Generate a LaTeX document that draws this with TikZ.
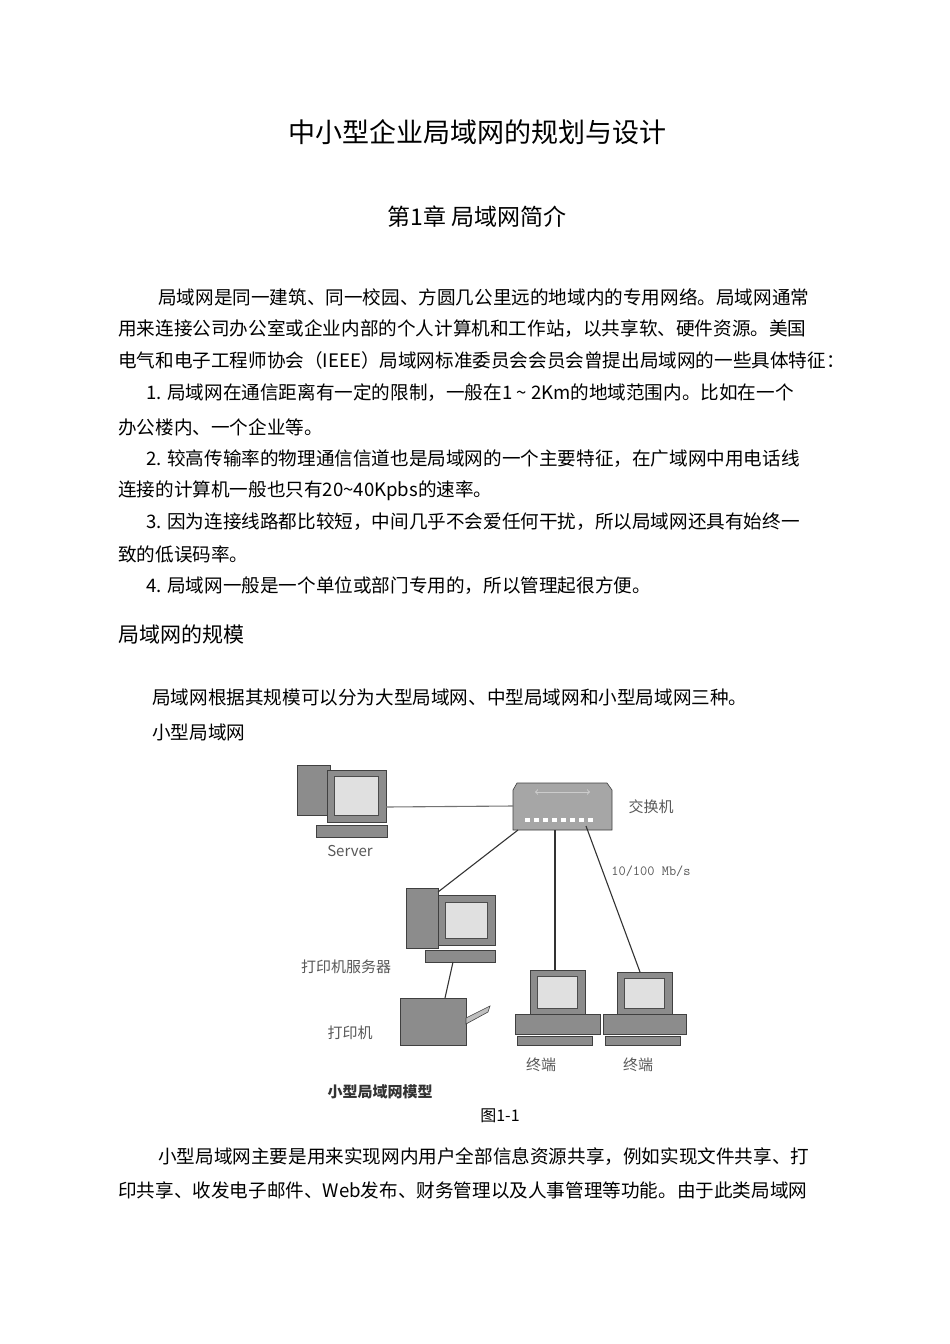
\documentclass[tikz,border=0pt]{standalone}
\usepackage{fontspec}
\setmainfont{Noto Sans CJK SC}
\newfontfamily\lab{Noto Sans CJK SC}
\begin{document}
\begin{tikzpicture}[x=1pt,y=-1pt,
 body/.style={anchor=west,inner sep=0pt,font=\fontsize{18.6}{20}\selectfont},
 dlab/.style={inner sep=0pt,text=black!65,font=\fontsize{15}{16}\selectfont},
 dev/.style={draw=black!75,fill=black!45,line width=0.6pt},
 scr/.style={draw=black!70,fill=black!12,line width=0.6pt},
 wire/.style={draw=black!80,line width=1.1pt}]
\useasboundingbox[fill=white] (0,0) rectangle (950,1344);
\node[inner sep=0pt,font=\fontsize{27}{30}\selectfont] (title) at (477,132) {中小型企业局域网的规划与设计};
\node[inner sep=0pt,font=\fontsize{23}{26}\selectfont] (chap) at (477,217) {第1章 局域网简介};
\node[body] (l1) at (158,297) {局域网是同一建筑、同一校园、方圆几公里远的地域内的专用网络。局域网通常};
\node[body] (l2) at (118,329) {用来连接公司办公室或企业内部的个人计算机和工作站，以共享软、硬件资源。美国};
\node[body] (l3) at (118,360) {电气和电子工程师协会（IEEE）局域网标准委员会会员会曾提出局域网的一些具体特征：};
\node[body] (l4) at (146,393) {1. 局域网在通信距离有一定的限制，一般在1 \~{} 2Km的地域范围内。比如在一个};
\node[body] (l5) at (118,427) {办公楼内、一个企业等。};
\node[body] (l6) at (146,459) {2. 较高传输率的物理通信信道也是局域网的一个主要特征，在广域网中用电话线};
\node[body] (l7) at (118,491) {连接的计算机一般也只有20\~{}40Kpbs的速率。};
\node[body] (l8) at (146,522) {3. 因为连接线路都比较短，中间几乎不会爱任何干扰，所以局域网还具有始终一};
\node[body] (l9) at (118,554) {致的低误码率。};
\node[body] (l10) at (146,586) {4. 局域网一般是一个单位或部门专用的，所以管理起很方便。};
\node[body,font=\fontsize{21}{24}\selectfont] (h2) at (118,634) {局域网的规模};
\node[body] (l11) at (152,697) {局域网根据其规模可以分为大型局域网、中型局域网和小型局域网三种。};
\node[body] (l12) at (152,732) {小型局域网};
\node[body] (l13) at (158,1157) {小型局域网主要是用来实现网内用户全部信息资源共享，例如实现文件共享、打};
\node[body] (l14) at (118,1190) {印共享、收发电子邮件、Web发布、财务管理以及人事管理等功能。由于此类局域网};
\node[inner sep=0pt,font=\fontsize{16}{18}\selectfont] (fig) at (500,1116) {图1-1};
% server
\draw[dev] (297,765) rectangle (330,815);
\draw[dev] (327,770) rectangle (386,822);
\draw[scr] (334,776) rectangle (378,815);
\draw[dev] (316,825) rectangle (387,837);
\coordinate (srvR) at (386,807);
\node[dlab] (srv) at (350,851) {Server};
% switch
\draw[dev,fill=black!35] (517,783) -- (607,783) -- (612,790) -- (612,830) -- (513,830) -- (513,790) -- cycle;
\draw[black!20,line width=1pt,<->] (535,792) -- (590,792);
\foreach \i in {0,...,7} \fill[white] (525+\i*9,818) rectangle (530+\i*9,822);
\coordinate (swL) at (513,806);
\coordinate (swA) at (518,830);
\coordinate (swB) at (555,830);
\coordinate (swC) at (586,826);
\node[dlab] (swlab) at (651,807) {交换机};
\node[dlab,font=\fontsize{14}{16}\ttfamily] (speed) at (651,871) {10/100 Mb/s};
% print server
\draw[dev] (406,888) rectangle (438,948);
\draw[dev] (438,895) rectangle (495,945);
\draw[scr] (445,902) rectangle (487,938);
\draw[dev] (425,950) rectangle (495,962);
\coordinate (psT) at (438,892);
\coordinate (psB) at (453,962);
\node[dlab] (pslab) at (346,967) {打印机服务器};
% printer
\draw[dev] (400,998) rectangle (466,1045);
\draw[dev,fill=black!25] (466,1018) -- (490,1006) -- (488,1012) -- (466,1024) -- cycle;
\coordinate (prT) at (445,998);
\node[dlab] (prlab) at (350,1033) {打印机};
% terminal 1
\draw[dev] (530,970) rectangle (585,1015);
\draw[scr] (537,976) rectangle (577,1008);
\draw[dev] (515,1014) rectangle (600,1034);
\draw[dev] (517,1036) rectangle (592,1045);
\coordinate (t1T) at (555,970);
\node[dlab] (t1lab) at (541,1065) {终端};
% terminal 2
\draw[dev] (617,972) rectangle (672,1015);
\draw[scr] (624,978) rectangle (664,1008);
\draw[dev] (603,1014) rectangle (686,1034);
\draw[dev] (605,1036) rectangle (680,1045);
\coordinate (t2T) at (640,972);
\node[dlab] (t2lab) at (638,1065) {终端};
\node[inner sep=0pt,font=\bfseries\fontsize{15}{17}\selectfont,text=black!80] (cap) at (380,1092) {小型局域网模型};
% wires
\draw[wire,black!55] (srvR) -- (swL);
\draw[wire] (swA) -- (psT);
\draw[wire] (psB) -- (prT);
\draw[wire] (swB) -- (t1T);
\draw[wire] (swC) -- (t2T);
\end{tikzpicture}
\end{document}
